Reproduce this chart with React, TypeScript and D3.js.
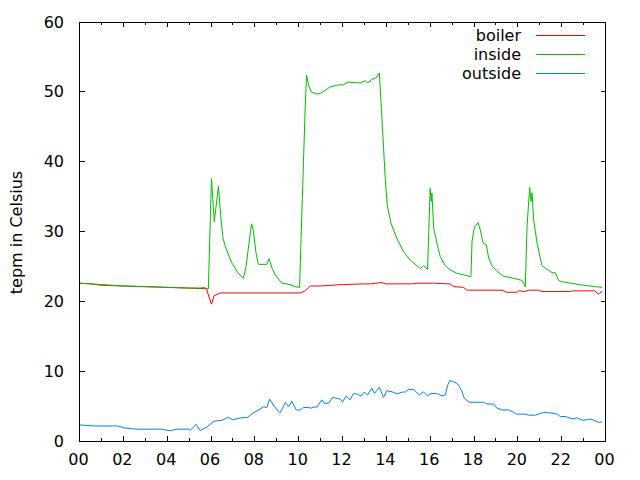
import React from "react";
import * as d3 from "d3";

// hours of day (0..24) and temperatures in Celsius
const boilerHours = [0, 0.5, 1, 2, 3, 4, 5, 5.8, 5.88, 6.02, 6.14, 6.42, 10.07, 10.3, 10.53, 11, 12, 13, 13.27, 13.8, 13.95, 15.15, 15.38, 16.15, 16.9, 17.07, 17.52, 17.68, 19.28, 19.5, 19.96, 20.04, 20.34, 20.49, 20.95, 21.1, 22.4, 22.5, 23.5, 23.7, 23.84];
const boilerTemps = [22.6, 22.5, 22.3, 22.2, 22.1, 22.0, 21.9, 21.8, 20.9, 19.6, 20.8, 21.2, 21.2, 21.5, 22.2, 22.2, 22.4, 22.5, 22.5, 22.7, 22.5, 22.5, 22.6, 22.6, 22.5, 22.1, 22.0, 21.6, 21.6, 21.3, 21.3, 21.5, 21.4, 21.6, 21.6, 21.4, 21.4, 21.5, 21.5, 21.0, 21.5];

const insideHours = [0, 1, 2, 3, 4, 5, 5.5, 5.7, 5.8, 5.88, 6.02, 6.15, 6.34, 6.45, 6.55, 6.68, 6.95, 7.25, 7.48, 7.6, 7.78, 7.85, 7.93, 8.05, 8.16, 8.55, 8.65, 8.78, 8.93, 9.23, 9.61, 9.84, 10.04, 10.22, 10.3, 10.36, 10.45, 10.56, 10.83, 11.01, 11.44, 11.82, 12.05, 12.27, 12.58, 12.85, 13.04, 13.16, 13.34, 13.54, 13.68, 13.76, 13.82, 13.87, 13.95, 14.0, 14.05, 14.21, 14.48, 14.79, 15.09, 15.4, 15.55, 15.7, 15.88, 16.0, 16.05, 16.08, 16.16, 16.31, 16.46, 16.69, 16.92, 17.22, 17.52, 17.86, 17.91, 18.01, 18.18, 18.29, 18.41, 18.56, 18.67, 18.82, 19.05, 19.35, 19.81, 20.19, 20.34, 20.42, 20.54, 20.6, 20.65, 20.72, 20.88, 21.1, 21.33, 21.56, 21.71, 21.86, 22.02, 22.4, 23.0, 23.5, 23.84];
const insideTemps = [22.6, 22.4, 22.2, 22.1, 22.0, 21.9, 21.9, 22.0, 21.8, 21.8, 37.6, 31.4, 36.5, 32.0, 29.0, 27.6, 25.5, 24.0, 23.3, 25.0, 29.5, 31.1, 30.2, 27.0, 25.3, 25.3, 26.1, 24.8, 23.8, 22.6, 22.4, 22.1, 22.0, 40.0, 48.0, 52.4, 51.0, 50.0, 49.7, 49.8, 50.7, 51.0, 51.0, 51.4, 51.3, 51.3, 51.6, 51.3, 51.8, 52.0, 52.7, 48.4, 45.0, 42.2, 37.6, 35.5, 33.6, 31.2, 29.0, 27.1, 25.9, 25.1, 24.7, 25.1, 24.6, 36.2, 34.3, 35.5, 30.5, 28.3, 26.4, 25.1, 24.5, 24.0, 23.8, 23.5, 28.6, 30.5, 31.3, 30.2, 28.4, 28.1, 26.2, 25.1, 24.3, 23.6, 23.3, 23.0, 22.1, 30.7, 36.3, 34.3, 35.5, 31.7, 28.3, 25.1, 24.6, 24.1, 24.1, 23.0, 22.8, 22.6, 22.3, 22.1, 22.0];

const outsideHours = [0, 0.7, 1.73, 2.08, 2.61, 3.75, 4.13, 4.44, 4.97, 5.05, 5.32, 5.5, 5.81, 6.14, 6.49, 6.8, 7.0, 7.2, 7.67, 7.94, 8.17, 8.39, 8.55, 8.67, 8.85, 9.08, 9.16, 9.39, 9.54, 9.69, 9.89, 10.07, 10.22, 10.45, 10.56, 10.75, 10.83, 11.06, 11.16, 11.36, 11.56, 11.74, 11.89, 12.0, 12.17, 12.35, 12.5, 12.68, 12.84, 12.99, 13.14, 13.34, 13.46, 13.68, 13.87, 14.03, 14.26, 14.49, 14.72, 14.86, 15.02, 15.22, 15.35, 15.51, 15.69, 15.88, 16.04, 16.28, 16.38, 16.54, 16.69, 16.8, 16.89, 17.07, 17.22, 17.34, 17.45, 17.56, 17.68, 17.8, 18.44, 18.59, 18.89, 19.05, 19.28, 19.58, 19.81, 19.96, 20.34, 20.49, 20.8, 21.03, 21.18, 21.56, 21.79, 21.94, 22.17, 22.4, 22.55, 22.67, 22.85, 23.0, 23.23, 23.39, 23.54, 23.69, 23.84];
const outsideTemps = [2.3, 2.15, 2.15, 1.85, 1.7, 1.7, 1.45, 1.7, 1.7, 1.5, 2.4, 1.5, 2.0, 2.85, 2.95, 3.4, 3.0, 3.25, 3.4, 4.05, 4.45, 4.9, 4.8, 6.0, 5.15, 4.2, 4.05, 5.5, 4.9, 5.7, 4.45, 4.45, 4.8, 4.8, 4.7, 4.9, 4.85, 5.9, 5.4, 5.4, 6.25, 6.1, 6.0, 5.6, 6.45, 5.9, 6.8, 6.7, 6.45, 7.0, 6.6, 7.55, 6.8, 7.7, 6.25, 7.2, 7.05, 6.75, 7.0, 7.0, 7.4, 7.4, 7.05, 6.6, 7.05, 6.45, 6.8, 6.8, 6.7, 6.45, 6.6, 8.0, 8.65, 8.5, 8.25, 7.8, 7.05, 6.1, 5.8, 5.55, 5.55, 5.3, 5.3, 4.7, 4.45, 4.45, 4.1, 3.85, 3.85, 3.7, 3.7, 3.95, 4.1, 4.0, 3.85, 3.5, 3.5, 3.25, 3.15, 3.35, 3.1, 2.95, 3.1, 3.1, 2.85, 2.65, 2.75];

const seriesNames = ["boiler", "inside", "outside"];
const seriesColors = ["#ff0000", "#00c000", "#0080ff"];
const xTickHours = [0, 2, 4, 6, 8, 10, 12, 14, 16, 18, 20, 22, 24];
const xTickLabels = ["00", "02", "04", "06", "08", "10", "12", "14", "16", "18", "20", "22", "00"];
const xMinorHours = [1, 3, 5, 7, 9, 11, 13, 15, 17, 19, 21, 23];
const yTicks = [0, 10, 20, 30, 40, 50, 60];
const yTitle = "tepm in Celsius";

const W = 640;
const H = 480;
const L = 79.5;
const R = 605.5;
const T = 22;
const B = 441;
const FONT = "'DejaVu Sans', sans-serif";

export default function App() {
  const x = d3.scaleLinear().domain([0, 24]).range([L, R]);
  const y = d3.scaleLinear().domain([0, 60]).range([B, T]);
  const line = d3
    .line<[number, number]>()
    .x((d) => x(d[0]))
    .y((d) => y(d[1]));
  const series = [
    d3.zip(boilerHours, boilerTemps) as [number, number][],
    d3.zip(insideHours, insideTemps) as [number, number][],
    d3.zip(outsideHours, outsideTemps) as [number, number][],
  ];
  const legendY = [35, 54, 73];

  return (
    <svg
      width={W}
      height={H}
      style={{ position: "absolute", left: 0, top: 0, background: "#fff" }}
      fontFamily={FONT}
      fontSize={16}
    >
      <rect x={0} y={0} width={W} height={H} fill="#fff" />
      {series.map((s, i) => (
        <path
          key={i}
          d={line(s) || ""}
          fill="none"
          stroke={seriesColors[i]}
          strokeWidth={1}
        />
      ))}
      <g stroke="#000" strokeWidth={1} shapeRendering="crispEdges">
        <rect x={L} y={T} width={R - L} height={B - T} fill="none" />
        {xTickHours.map((h) => (
          <g key={"xt" + h}>
            <line x1={x(h)} x2={x(h)} y1={B} y2={B - 5} />
            <line x1={x(h)} x2={x(h)} y1={T} y2={T + 5} />
          </g>
        ))}
        {xMinorHours.map((h) => (
          <g key={"xm" + h}>
            <line x1={x(h)} x2={x(h)} y1={B} y2={B - 3} />
            <line x1={x(h)} x2={x(h)} y1={T} y2={T + 3} />
          </g>
        ))}
        {yTicks.map((v) => (
          <g key={"yt" + v}>
            <line x1={L} x2={L + 5} y1={y(v)} y2={y(v)} />
            <line x1={R} x2={R - 5} y1={y(v)} y2={y(v)} />
          </g>
        ))}
      </g>
      <g fill="#000">
        {yTicks.map((v) => (
          <text
            key={"yl" + v}
            x={64}
            y={y(v)}
            textAnchor="end"
            dominantBaseline="central"
          >
            {v}
          </text>
        ))}
        {xTickHours.map((h, i) => (
          <text key={"xl" + i} x={x(h) - 1} y={465} textAnchor="middle">
            {xTickLabels[i]}
          </text>
        ))}
        <text
          transform={`translate(16, ${(T + B) / 2 + 1}) rotate(-90)`}
          textAnchor="middle"
          dominantBaseline="central"
        >
          {yTitle}
        </text>
      </g>
      {seriesNames.map((n, i) => (
        <g key={"lg" + n}>
          <text
            x={521}
            y={legendY[i]}
            textAnchor="end"
            dominantBaseline="central"
            fill="#000"
          >
            {n}
          </text>
          <line
            x1={536}
            x2={585}
            y1={legendY[i]}
            y2={legendY[i]}
            stroke={seriesColors[i]}
            strokeWidth={1}
            shapeRendering="crispEdges"
          />
        </g>
      ))}
    </svg>
  );
}
